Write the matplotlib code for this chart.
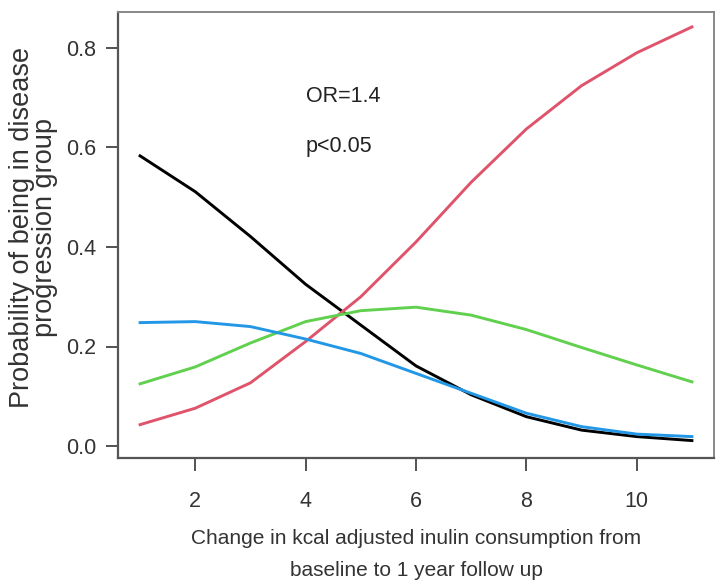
import matplotlib
matplotlib.use("Agg")
import matplotlib.pyplot as plt

plt.rcParams['font.family'] = ['Liberation Sans', 'DejaVu Sans']

# Predicted probabilities by inulin change category
x_vals = [1, 2, 3, 4, 5, 6, 7, 8, 9, 10, 11]
prob_black = [0.583, 0.511, 0.421, 0.325, 0.243, 0.161, 0.103, 0.059, 0.032, 0.019, 0.011]
prob_red = [0.043, 0.076, 0.127, 0.210, 0.300, 0.410, 0.530, 0.637, 0.724, 0.790, 0.842]
prob_green = [0.125, 0.159, 0.207, 0.250, 0.272, 0.279, 0.263, 0.234, 0.198, 0.163, 0.129]
prob_blue = [0.248, 0.250, 0.240, 0.215, 0.186, 0.146, 0.106, 0.066, 0.039, 0.024, 0.019]

x_ticks = [2, 4, 6, 8, 10]
y_ticks = [0.0, 0.2, 0.4, 0.6, 0.8]
y_ticklabels = ["0.0", "0.2", "0.4", "0.6", "0.8"]

annot_or = "OR=1.4"
annot_p = "p<0.05"
x_label = "Change in kcal adjusted inulin consumption from\nbaseline to 1 year follow up"
y_label = "Probability of being in disease\nprogression group"

fig = plt.figure(figsize=(7.16, 5.87), dpi=100)
ax = fig.add_axes([118 / 716, 1 - 458 / 587, (714 - 118) / 716, (458 - 12) / 587])

lw = 2.1
ax.plot(x_vals, prob_black, color="black", lw=lw)
ax.plot(x_vals, prob_red, color="#DF536B", lw=lw)
ax.plot(x_vals, prob_green, color="#61D04F", lw=lw)
ax.plot(x_vals, prob_blue, color="#2297E6", lw=lw)

ax.set_xlim(0.6, 11.4)
ax.set_ylim(-0.024, 0.872)

ax.set_xticks(x_ticks)
ax.set_yticks(y_ticks)
ax.set_yticklabels(y_ticklabels)
ax.tick_params(axis="both", direction="out", length=9, width=1.3,
               color="#444444", labelcolor="#333333", labelsize=15.5)
ax.tick_params(axis="x", pad=15)
ax.tick_params(axis="y", pad=6.5)

for side in ("left", "bottom"):
    ax.spines[side].set_color("#555555")
    ax.spines[side].set_linewidth(1.6)
for side in ("top", "right"):
    ax.spines[side].set_color("#888888")
    ax.spines[side].set_linewidth(1.4)

ax.text(4.0, 0.703, annot_or, fontsize=15.5, color="#222222", va="center", ha="left")
ax.text(4.0, 0.602, annot_p, fontsize=15.5, color="#222222", va="center", ha="left")

ax.set_xlabel(x_label, fontsize=15, color="#333333", linespacing=1.85, va="center")
ax.xaxis.set_label_coords(0.5, -0.2164)
ax.set_ylabel(y_label, fontsize=19.5, color="#333333", linespacing=0.85, va="center")
ax.yaxis.set_label_coords(-0.1418, 0.516)

fig.savefig("out.png", dpi=100)
